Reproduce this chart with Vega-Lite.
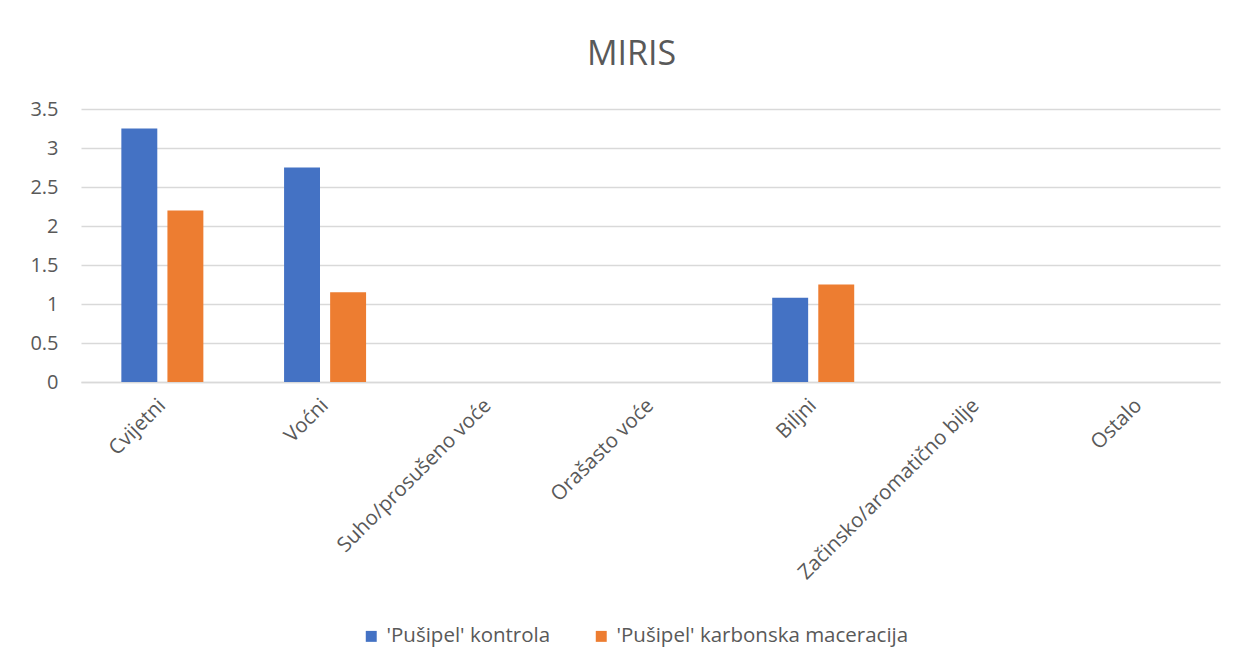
{
  "$schema": "https://vega.github.io/schema/vega-lite/v6.json",
  "width": 1139,
  "height": 273,
  "autosize": {"type": "none"},
  "padding": {"left": 81, "top": 109, "right": 17, "bottom": 287},
  "background": "white",
  "title": {"text": "MIRIS", "fontSize": 34, "font": "Open Sans", "fontWeight": "normal", "color": "#595959", "anchor": "middle", "offset": 27, "dx": -19},
  "data": {
    "values": [
      {"kategorija": "Cvijetni", "uzorak": "'Pušipel' kontrola", "vrijednost": 3.25},
      {"kategorija": "Cvijetni", "uzorak": "'Pušipel' karbonska maceracija", "vrijednost": 2.2},
      {"kategorija": "Voćni", "uzorak": "'Pušipel' kontrola", "vrijednost": 2.75},
      {"kategorija": "Voćni", "uzorak": "'Pušipel' karbonska maceracija", "vrijednost": 1.15},
      {"kategorija": "Suho/prosušeno voće", "uzorak": "'Pušipel' kontrola", "vrijednost": 0},
      {"kategorija": "Suho/prosušeno voće", "uzorak": "'Pušipel' karbonska maceracija", "vrijednost": 0},
      {"kategorija": "Orašasto voće", "uzorak": "'Pušipel' kontrola", "vrijednost": 0},
      {"kategorija": "Orašasto voće", "uzorak": "'Pušipel' karbonska maceracija", "vrijednost": 0},
      {"kategorija": "Biljni", "uzorak": "'Pušipel' kontrola", "vrijednost": 1.08},
      {"kategorija": "Biljni", "uzorak": "'Pušipel' karbonska maceracija", "vrijednost": 1.25},
      {"kategorija": "Začinsko/aromatično bilje", "uzorak": "'Pušipel' kontrola", "vrijednost": 0},
      {"kategorija": "Začinsko/aromatično bilje", "uzorak": "'Pušipel' karbonska maceracija", "vrijednost": 0},
      {"kategorija": "Ostalo", "uzorak": "'Pušipel' kontrola", "vrijednost": 0},
      {"kategorija": "Ostalo", "uzorak": "'Pušipel' karbonska maceracija", "vrijednost": 0}
    ]
  },
  "mark": {"type": "bar"},
  "encoding": {
    "x": {
      "field": "kategorija", "type": "nominal", "sort": null,
      "scale": {"paddingInner": 0.496, "paddingOuter": 0.248},
      "axis": {"title": null, "labelAngle": -45, "labelAlign": "right", "labelBaseline": "middle", "labelPadding": 20, "labelLimit": 0, "ticks": false, "domainColor": "#d9d9d9", "domainWidth": 1.5, "labelFontSize": 20.5, "labelFont": "Open Sans", "labelColor": "#595959", "grid": false}
    },
    "xOffset": {
      "field": "uzorak", "type": "nominal", "sort": ["'Pušipel' kontrola", "'Pušipel' karbonska maceracija"],
      "scale": {"paddingInner": 0.22, "paddingOuter": 0}
    },
    "y": {
      "field": "vrijednost", "type": "quantitative",
      "scale": {"domain": [0, 3.5], "nice": false},
      "axis": {"title": null, "values": [0, 0.5, 1, 1.5, 2, 2.5, 3, 3.5], "format": "~g", "ticks": false, "domain": false, "gridColor": "#d9d9d9", "gridWidth": 1.5, "labelFontSize": 20, "labelFont": "Open Sans", "labelColor": "#595959", "labelPadding": 23}
    },
    "color": {
      "field": "uzorak", "type": "nominal", "sort": ["'Pušipel' kontrola", "'Pušipel' karbonska maceracija"],
      "scale": {"domain": ["'Pušipel' kontrola", "'Pušipel' karbonska maceracija"], "range": ["#4472c4", "#ed7d31"]},
      "legend": {"title": null, "orient": "none", "direction": "horizontal", "legendX": 280, "legendY": 517, "symbolType": "square", "symbolSize": 120, "symbolStrokeWidth": 0, "labelFontSize": 20.5, "labelFont": "Open Sans", "labelColor": "#595959", "labelLimit": 0, "columnPadding": 40, "labelOffset": 5}
    }
  },
  "config": {"view": {"stroke": null}}
}
